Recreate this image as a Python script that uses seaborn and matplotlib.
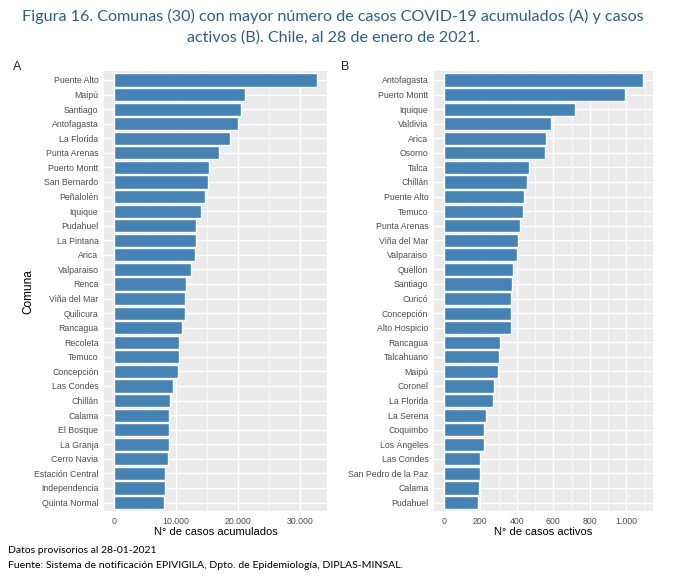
import numpy as np
import pandas as pd
import seaborn as sns
import matplotlib.pyplot as plt
from matplotlib.ticker import FuncFormatter, MultipleLocator

# Panel A: casos acumulados
comunas_a = ['Puente Alto', 'Maipú', 'Santiago', 'Antofagasta', 'La Florida', 'Punta Arenas',
             'Puerto Montt', 'San Bernardo', 'Peñalolén', 'Iquique', 'Pudahuel', 'La Pintana',
             'Arica', 'Valparaiso', 'Renca', 'Viña del Mar', 'Quilicura', 'Rancagua', 'Recoleta',
             'Temuco', 'Concepción', 'Las Condes', 'Chillán', 'Calama', 'El Bosque', 'La Granja',
             'Cerro Navia', 'Estación Central', 'Independencia', 'Quinta Normal']
acumulados = [32790, 21180, 20580, 19990, 18800, 16960, 15290, 15120, 14640, 14050, 13290, 13260,
              13130, 12430, 11620, 11510, 11400, 10970, 10530, 10500, 10370, 9450, 8970, 8920,
              8810, 8790, 8750, 8210, 8160, 8050]

# Panel B: casos activos
comunas_b = ['Antofagasta', 'Puerto Montt', 'Iquique', 'Valdivia', 'Arica', 'Osorno', 'Talca',
             'Chillán', 'Puente Alto', 'Temuco', 'Punta Arenas', 'Viña del Mar', 'Valparaiso',
             'Quellón', 'Santiago', 'Curicó', 'Concepción', 'Alto Hospicio', 'Rancagua',
             'Talcahuano', 'Maipú', 'Coronel', 'La Florida', 'La Serena', 'Coquimbo',
             'Los Ángeles', 'Las Condes', 'San Pedro de la Paz', 'Calama', 'Pudahuel']
activos = [1090, 994, 716, 586, 559, 552, 464, 457, 438, 435, 418, 404, 402, 380, 375, 367, 366,
           366, 307, 303, 298, 274, 270, 232, 221, 219, 199, 197, 194, 188]

titulo = ('Figura 16. Comunas (30) con mayor número de casos COVID-19 acumulados (A) y casos\n'
          'activos (B). Chile, al 28 de enero de 2021.')
nota1 = 'Datos provisorios al 28-01-2021'
nota2 = 'Fuente: Sistema de notificación EPIVIGILA, Dpto. de Epidemiología, DIPLAS-MINSAL.'

sns.set_theme(style='darkgrid', rc={'axes.facecolor': '#EBEBEB', 'grid.color': 'white'})
plt.rcParams['font.family'] = ['Liberation Sans', 'DejaVu Sans']


def miles(x, pos):
    return f'{int(x):,}'.replace(',', '.')


def panel(ax, nombres, valores, xlabel, paso, ylabel=''):
    df = pd.DataFrame({'comuna': nombres, 'valor': valores})
    sns.barplot(data=df, y='comuna', x='valor', orient='h', color='#4682B4',
                saturation=1, width=0.9, ax=ax)
    vmax = max(valores)
    ax.set_xlim(-0.05 * vmax, 1.05 * vmax)
    ax.set_ylim(len(nombres) - 0.4, -0.6)
    ax.xaxis.set_major_locator(MultipleLocator(paso))
    ax.xaxis.set_minor_locator(MultipleLocator(paso / 2))
    ax.xaxis.set_major_formatter(FuncFormatter(miles))
    ax.grid(True, which='major', color='white', lw=1.0)
    ax.grid(True, which='minor', axis='x', color='white', lw=0.5)
    ax.set_axisbelow(True)
    for s in ax.spines.values():
        s.set_visible(False)
    ax.tick_params(axis='both', which='major', length=2.5, width=0.6, color='#333333',
                   labelsize=6.3, labelcolor='#4D4D4D', pad=1.5)
    ax.tick_params(axis='x', which='minor', length=0)
    ax.set_xlabel(xlabel, fontsize=8, color='black', labelpad=1)
    ax.set_ylabel(ylabel, fontsize=8.5, color='black')


fig = plt.figure(figsize=(6.8, 5.79), dpi=100)
ax1 = fig.add_axes([0.153, 0.117, 0.328, 0.760])
ax2 = fig.add_axes([0.638, 0.117, 0.322, 0.760])

panel(ax1, comunas_a, acumulados, 'N° de casos acumulados', 10000, 'Comuna')
panel(ax2, comunas_b, activos, 'N° de casos activos', 200)
ax1.yaxis.set_label_coords(-0.313, 0.5)

fig.text(0.019, 0.884, 'A', fontsize=9, ha='left', va='center')
fig.text(0.502, 0.884, 'B', fontsize=9, ha='left', va='center')

fig.text(0.49, 0.985, titulo, ha='center', va='top', fontsize=11.6, color='#2F5F80',
         family=['Lato', 'DejaVu Sans'], linespacing=1.62)
fig.text(0.012, 0.049, nota1, ha='left', va='center', fontsize=7.5, color='black',
         family=['Lato', 'DejaVu Sans'])
fig.text(0.012, 0.023, nota2, ha='left', va='center', fontsize=7.55, color='black',
         family=['Lato', 'DejaVu Sans'])

fig.savefig('out.png', dpi=100, facecolor='white')
